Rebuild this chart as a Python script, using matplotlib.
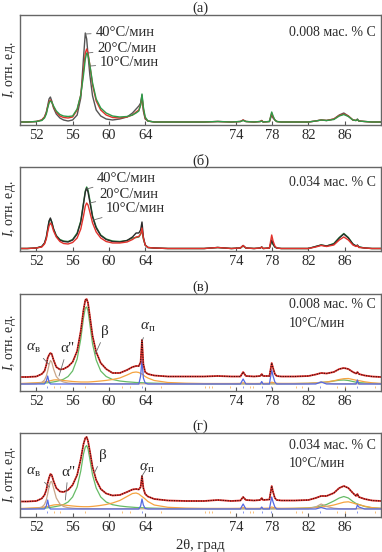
import numpy as np
import matplotlib
matplotlib.use('Agg')
import matplotlib.pyplot as plt

plt.rcParams['font.family'] = ['Liberation Serif', 'DejaVu Serif']
plt.rcParams['mathtext.fontset'] = 'custom'
plt.rcParams['mathtext.rm'] = 'Liberation Serif'
plt.rcParams['mathtext.it'] = 'Liberation Serif:italic'

#%% Data (intensity, arbitrary units)
tt = [50.2, 51.0, 52.0, 52.6, 52.9, 53.1, 53.25, 53.4, 53.55, 53.7,
      53.9, 54.2, 54.6, 55.0, 55.5, 56.0, 56.5, 56.9, 57.2, 57.4,
      57.55, 57.7, 57.9, 58.2, 58.6, 59.1, 59.7, 60.4, 61.2, 62.0,
      62.6, 63.0, 63.3, 63.5, 63.65, 63.8, 64.0, 64.3, 65.0, 66.5,
      68.5, 70.5, 72.0, 73.5, 74.5, 74.8, 75.1, 76.0, 76.7, 76.85,
      77.0, 77.7, 77.95, 78.1, 78.3, 78.5, 79.0, 80.5, 82.0, 82.8,
      83.4, 84.0, 84.8, 85.4, 85.9, 86.4, 86.9, 87.25, 87.4, 87.55,
      88.2, 89.0, 90.0]

# (a) 0.008 wt.% C
a_black = [1, 1, 1.5, 3, 6, 11, 17, 24, 26, 22,
           15, 9, 5, 3, 2, 3, 8, 25, 65, 90,
           84, 68, 48, 27, 13, 7, 4, 3, 4, 6,
           10, 14, 17, 20, 28, 12, 4, 2, 1, 1,
           1, 1, 1.5, 1, 1.5, 3, 1.5, 1, 1.5, 2.5,
           1, 1.5, 8, 5, 3, 1.5, 1, 1, 1, 2,
           3, 2.5, 4, 8, 10, 7, 3, 2.5, 4, 2,
           1.5, 1, 1]
a_red = [1, 1, 1.5, 3, 6, 10, 16, 21, 23, 21,
         16, 11, 7, 5.5, 5, 6, 13, 28, 52, 70,
         74, 70, 58, 38, 22, 13, 8, 5.5, 5, 6,
         8, 11, 13, 18, 26, 14, 5, 2, 1, 1,
         1, 1, 1.5, 1, 1.5, 3, 1.5, 1, 1.5, 2.5,
         1, 1.5, 10, 6, 3, 1.5, 1, 1, 1, 2,
         3, 2.5, 4, 7.5, 9, 7, 3, 2.5, 3.5, 2,
         1.5, 1, 1]
a_green = [1, 1, 1.5, 2.5, 5, 9, 15, 20, 22, 21,
           17, 12, 8.5, 7, 6.5, 7, 14, 28, 48, 64,
           70, 68, 58, 40, 24, 15, 10, 7, 6, 6.5,
           8, 10, 12, 18, 29, 16, 6, 2, 1, 1,
           1, 1, 1.5, 1, 1.5, 2.5, 1.5, 1, 1.5, 2,
           1, 1.5, 11, 7, 3, 1.5, 1, 1, 1, 2,
           3, 2.5, 3.5, 7, 8.5, 6.5, 3, 2.5, 3.5, 2,
           1.5, 1, 1]

# (б) 0.034 wt.% C
b_black = [1.5, 1.5, 2, 3.5, 7, 13, 21, 29, 32, 28,
           21, 14, 10, 8.5, 8, 10, 16, 28, 46, 58,
           62, 58, 48, 33, 22, 14.5, 10.5, 8.5, 8, 9.5,
           13, 17, 17, 20, 28, 13, 5, 2.5, 2, 1.5,
           1.5, 1.5, 2.5, 1.5, 2, 4.5, 2, 1.5, 2, 3,
           1.5, 2, 10, 6, 3, 2, 1.5, 1.5, 1.5, 3.5,
           5, 4, 6, 12, 16, 12, 6, 4, 5, 3,
           2, 1.5, 1.5]
b_green = [1.5, 1.5, 2, 3.5, 6.5, 12, 20, 28, 31, 28,
           21, 14.5, 10.5, 9, 8.5, 10.5, 17, 29, 47, 59,
           63, 60, 50, 34, 23, 15, 11, 9, 8.5, 9.5,
           12, 12.5, 13, 16, 20, 11, 5, 2.5, 2, 1.5,
           1.5, 1.5, 2.5, 1.5, 2, 4, 2, 1.5, 2, 3,
           1.5, 2, 9, 5.5, 3, 2, 1.5, 1.5, 1.5, 3.5,
           5, 4, 6.5, 12.5, 16.5, 12.5, 6, 4, 4.5, 3,
           2, 1.5, 1.5]
b_red = [1.5, 1.5, 2, 3, 6, 11, 18, 24, 27, 25,
         19, 13, 8.5, 6.5, 6, 7.5, 12, 21, 34, 44,
         47, 45, 38, 27, 18, 12, 8.5, 7, 7, 8,
         10.5, 13, 13.5, 16, 22, 12, 5, 2.5, 2, 1.5,
         1.5, 1.5, 2.5, 1.5, 2, 4.5, 2, 1.5, 2, 3,
         1.5, 2, 15, 9, 4, 2, 1.5, 1.5, 1.5, 3,
         4.5, 3.5, 5, 10, 13, 10, 5, 3.5, 4.5, 2.5,
         2, 1.5, 1.5]

# (в) 0.008 wt.% C, 10 C/min: measured profile and phase components
v_obs = [7, 7, 7.5, 10, 13, 19, 26, 29, 31, 30,
         24, 17, 14.5, 15, 17.5, 22, 33, 53, 74, 84,
         85, 81, 68, 48, 32, 21, 15, 11, 11, 14,
         17, 18, 18, 22, 44, 20, 12, 10, 8.5, 7.5,
         7.5, 7.5, 8, 7.5, 7.5, 12, 8, 7.5, 8, 10,
         8, 8, 21, 16, 10, 8, 7.5, 7.5, 8, 9.5,
         11, 10.5, 12, 15, 16, 15, 12, 10.5, 12, 10,
         8.5, 7.5, 7]
v_beta = [0.3, 0.4, 0.6, 0.8, 1, 1.1, 1.2, 1.4, 1.6, 1.8,
          2.1, 2.6, 3.5, 4.8, 7.5, 13, 25, 45, 66, 76,
          77, 73, 60, 40, 24, 13, 7.5, 4.5, 3, 2.2,
          1.8, 1.5, 1.4, 1.3, 1.3, 1.2, 1.1, 1, 0.8, 0.5,
          0.3, 0.2, 0.2, 0.2, 0.2, 0.2, 0.2, 0.2, 0.2, 0.2,
          0.2, 0.2, 0.3, 0.3, 0.3, 0.3, 0.3, 0.4, 0.6, 1,
          1.5, 2, 3, 3.8, 4, 3.5, 2.5, 1.8, 1.6, 1.4,
          1, 0.6, 0.3]
v_a2 = [0.5, 0.8, 1.2, 1.6, 2, 2.3, 2.6, 3, 3.3, 3.6,
        4, 4.2, 4, 3.5, 3, 2.5, 2.2, 2, 2, 2,
        2, 2, 2.1, 2.3, 2.6, 3, 3.6, 4.5, 6, 9,
        11.5, 12, 11.5, 10.5, 10, 9, 7.5, 6, 3.5, 1.5,
        0.8, 0.5, 0.5, 0.5, 0.6, 1.2, 0.6, 0.5, 0.6, 0.8,
        0.6, 0.8, 1.8, 1.5, 1, 0.7, 0.6, 0.6, 0.8, 1.1,
        1.5, 2, 3.2, 4.5, 5.3, 5.5, 4.5, 3.8, 3.6, 3.4,
        2.2, 1.2, 0.6]
v_ab = [0, 0, 0.3, 1.5, 4, 8, 13, 19, 23.5, 22,
        15, 7.5, 3.5, 2, 1, 0.6, 0.4, 0.3, 0.2, 0.2,
        0.2, 0.2, 0.2, 0.2, 0.2, 0.2, 0.2, 0.2, 0.2, 0.2,
        0.2, 0.2, 0.2, 0.2, 0.2, 0.2, 0.2, 0.2, 0.2, 0.2,
        0.2, 0.2, 0.2, 0.2, 0.2, 0.2, 0.2, 0.2, 0.2, 0.2,
        0.2, 0.2, 0.2, 0.2, 0.2, 0.2, 0.2, 0.2, 0.3, 0.8,
        2, 1, 0.3, 0.2, 0.2, 0.2, 0.2, 0.2, 0.2, 0.2,
        0.2, 0.2, 0.2]
v_ap = [0, 0, 0, 0, 0, 3, 8, 2, 0, 0,
        0, 0, 0, 0, 0, 0, 0, 0, 0, 0,
        0, 0, 0, 0, 0, 0, 0, 0, 0, 0,
        0, 0, 0, 8, 25, 6, 1, 0, 0, 0,
        0, 0, 0, 0, 0, 5, 0, 0, 0, 2.5,
        0, 0, 14, 8, 2, 0, 0, 0, 0, 0,
        2, 0, 0, 0, 0, 0, 0, 0, 4, 0,
        0, 0, 0]

# (г) 0.034 wt.% C, 10 C/min
g_obs = [7.5, 7.5, 8, 10.5, 14, 19, 26, 31, 35, 34,
         28, 21, 17.5, 17, 19, 24, 34, 50, 65, 71,
         72, 68, 58, 42, 29, 20, 15.5, 13.5, 14, 17,
         19.5, 20, 19.5, 22, 33, 21, 15, 12.5, 10, 8.5,
         8, 8, 9, 8, 8.5, 12, 9, 8.5, 9, 11,
         9, 9.5, 23, 17, 11, 9, 8.5, 8.5, 9, 11,
         13, 13, 16, 21, 23, 21, 16, 13, 15, 12,
         10, 8.5, 8]
g_beta = [0.3, 0.4, 0.6, 0.8, 1, 1.1, 1.2, 1.4, 1.6, 1.8,
          2.1, 2.6, 3.3, 4.5, 7, 12, 22, 38, 55, 62,
          63.5, 60, 50, 34, 21, 12, 7, 4.3, 3, 2.2,
          1.8, 1.5, 1.4, 1.3, 1.3, 1.2, 1.1, 1, 0.8, 0.5,
          0.3, 0.3, 0.3, 0.3, 0.3, 0.3, 0.3, 0.3, 0.3, 0.3,
          0.3, 0.3, 0.3, 0.3, 0.3, 0.3, 0.3, 0.5, 1, 2,
          3, 4.5, 8, 11, 12.5, 11, 7.5, 5.5, 5, 4.5,
          2.5, 1.2, 0.6]
g_a2 = [0.5, 0.8, 1.2, 1.6, 2, 2.3, 2.6, 3, 3.3, 3.6,
        4, 4.3, 4.3, 4, 3.5, 3, 2.6, 2.4, 2.3, 2.3,
        2.3, 2.3, 2.4, 2.6, 3, 3.6, 4.5, 6, 8.5, 12.5,
        15.5, 16, 15, 13.5, 12.5, 11.5, 10, 7.5, 4, 1.7,
        0.9, 0.6, 0.6, 0.6, 0.7, 1.4, 0.7, 0.6, 0.7, 0.9,
        0.7, 0.9, 2, 1.6, 1.1, 0.8, 0.7, 0.8, 1, 1.4,
        2, 2.6, 4, 5.5, 6.8, 7.2, 6, 5, 4.7, 4.4,
        2.8, 1.4, 0.7]
g_ab = [0, 0.1, 0.4, 1.8, 4.5, 9, 15, 22, 27, 27.5,
        21, 11, 5, 2.5, 1.3, 0.8, 0.5, 0.4, 0.3, 0.3,
        0.3, 0.3, 0.3, 0.3, 0.3, 0.3, 0.3, 0.3, 0.3, 0.3,
        0.2, 0.2, 0.2, 0.2, 0.2, 0.2, 0.2, 0.2, 0.2, 0.2,
        0.2, 0.2, 0.2, 0.2, 0.2, 0.2, 0.2, 0.2, 0.2, 0.2,
        0.2, 0.2, 0.2, 0.2, 0.2, 0.2, 0.2, 0.2, 0.3, 2,
        5, 2.5, 0.8, 0.3, 0.2, 0.2, 0.2, 0.2, 0.2, 0.2,
        0.2, 0.2, 0.2]
g_ap = [0, 0, 0, 0, 0, 3, 9, 2, 0, 0,
        0, 0, 0, 0, 0, 0, 0, 0, 0, 0,
        0, 0, 0, 0, 0, 0, 0, 0, 0, 0,
        0, 0, 0, 3, 10, 4, 0.5, 0, 0, 0,
        0, 0, 0, 0, 0, 5, 0, 0, 0, 2,
        0, 0, 12, 7, 2, 0, 0, 0, 0, 0,
        1.5, 0, 0, 0, 0, 0, 0, 0, 4, 2,
        0, 0, 0]

# Bragg position markers under the fitted panels
mk_orange = [53.9, 54.6, 57.4, 61.4, 62.3, 65.8, 70.6, 71.0, 71.4, 73.4,
             75.6, 75.9, 80.6, 81.3, 85.2, 86.0, 89.3]
mk_blue = [53.2, 63.6, 74.8, 76.9, 77.9, 83.3, 87.4]

xticks = [52, 56, 60, 64, 74, 78, 82, 86]

#%% Colours
c_black = '#2a2a2a'
c_red = '#e2312b'
c_green = '#2f9a48'
c_beige = '#c9a68a'
c_orange = '#f5a340'
c_lgreen = '#66bb66'
c_blue = '#5468e0'
c_text = '#2a2a2a'
c_lead = '#6a6a6a'

#%% Figure
W, H = 382.0, 552.0
fig = plt.figure(figsize=(W / 100, H / 100), dpi=100)


def add_panel(top, bottom, ylim, title):
    ax = fig.add_axes([20 / W, 1 - bottom / H, 361 / W, (bottom - top) / H])
    ax.set_xlim(50.2, 90.0)
    ax.set_ylim(*ylim)
    ax.set_xticks(xticks)
    ax.set_yticks([])
    ax.tick_params(axis='x', direction='in', length=3, width=0.8,
                   color='#555555', labelsize=10.5, labelcolor=c_text, pad=3)
    for sp in ax.spines.values():
        sp.set_color('#666666')
        sp.set_linewidth(1.0)
    ax.annotate(title, xy=(0.5, 1), xycoords='axes fraction',
                xytext=(0, 4.5), textcoords='offset points',
                ha='center', va='center', fontsize=10.5, color=c_text)
    fig.text(10 / W, 1 - (top + bottom) / 2 / H, '$I$, отн. ед.',
             rotation=90, ha='center', va='center', fontsize=10, color=c_text)
    return ax


def lead(ax, label, xy, xytext, size=10.5, ha='left'):
    ax.annotate(label, xy=xy, xytext=xytext, ha=ha, va='center',
                fontsize=size, color=c_text,
                arrowprops=dict(arrowstyle='-', color=c_lead, lw=0.6,
                                shrinkA=1, shrinkB=0))


#### (a)
ax = add_panel(15, 125, (-2, 108), '(a)')
ax.plot(tt, a_black, color='#555555', lw=1.0)
ax.plot(tt, a_red, color=c_red, lw=1.0)
ax.plot(tt, a_green, color=c_green, lw=1.0)
lead(ax, '40°C/мин', (57.4, 89), (58.5, 91))
lead(ax, '20°C/мин', (57.7, 70), (58.7, 75))
lead(ax, '10°C/мин', (57.95, 57), (59.0, 60))
ax.text(0.745, 0.845, '0.008 мас. % C', transform=ax.transAxes,
        ha='left', va='center', fontsize=10, color=c_text)

#### (б)
ax = add_panel(167, 251, (-1, 83), '(б)')
ax.plot(tt, b_green, color=c_green, lw=1.0)
ax.plot(tt, b_black, color=c_black, lw=1.0)
ax.plot(tt, b_red, color=c_red, lw=1.0)
lead(ax, '40°C/мин', (57.55, 61), (58.7, 72))
lead(ax, '20°C/мин', (57.9, 47), (59.0, 56))
lead(ax, '10°C/мин', (58.3, 30), (59.7, 42))
ax.text(0.745, 0.82, '0.034 мас. % C', transform=ax.transAxes,
        ha='left', va='center', fontsize=10, color=c_text)


#### (в), (г)
def fit_panel(ax, obs, ab, a2, beta, ap):
    ax.plot(mk_orange, [-3] * len(mk_orange), ls='none', marker='|',
            ms=1.8, mew=0.7, color=c_orange, alpha=0.7)
    ax.plot(mk_blue, [-3] * len(mk_blue), ls='none', marker='|',
            ms=1.8, mew=0.7, color=c_blue, alpha=0.7)
    ax.plot(tt, beta, color=c_lgreen, lw=0.9)
    ax.plot(tt, a2, color=c_orange, lw=0.9)
    ax.plot(tt, ab, color=c_beige, lw=0.9)
    ax.plot(tt, ap, color=c_blue, lw=0.9)
    ax.plot(tt, obs, color=c_red, lw=1.3)
    ax.plot(tt, obs, color='#301010', lw=0.8, ls=(0, (1, 1.2)))


ax = add_panel(294, 391, (-7, 90), '(в)')
fit_panel(ax, v_obs, v_ab, v_a2, v_beta, v_ap)
lead(ax, r'$\alpha_{\mathrm{в}}$', (53.35, 20), (51.7, 36), size=11, ha='center')
lead(ax, 'α"', (54.5, 8), (55.4, 35), size=11, ha='center')
lead(ax, 'β', (58.5, 30), (59.6, 52), size=11, ha='center')
lead(ax, r'$\alpha_{\mathrm{п}}$', (63.7, 44), (64.3, 57), size=11, ha='center')
ax.text(0.745, 0.89, '0.008 мас. % C', transform=ax.transAxes,
        ha='left', va='center', fontsize=10, color=c_text)
ax.text(0.745, 0.70, '10°C/мин', transform=ax.transAxes,
        ha='left', va='center', fontsize=10, color=c_text)

ax = add_panel(433, 517, (-8, 76), '(г)')
fit_panel(ax, g_obs, g_ab, g_a2, g_beta, g_ap)
lead(ax, r'$\alpha_{\mathrm{в}}$', (53.45, 22), (51.7, 37), size=11, ha='center')
lead(ax, 'α"', (55.2, 9), (55.5, 37), size=11, ha='center')
lead(ax, 'β', (58.4, 36), (59.3, 53), size=11, ha='center')
lead(ax, r'$\alpha_{\mathrm{п}}$', (63.65, 33), (64.2, 41), size=11, ha='center')
ax.text(0.745, 0.857, '0.034 мас. % C', transform=ax.transAxes,
        ha='left', va='center', fontsize=10, color=c_text)
ax.text(0.745, 0.64, '10°C/мин', transform=ax.transAxes,
        ha='left', va='center', fontsize=10, color=c_text)

fig.text(200 / W, 1 - 546 / H, '2θ, град', ha='center', va='center',
         fontsize=10.5, color=c_text)

fig.savefig('out.png', dpi=100)
